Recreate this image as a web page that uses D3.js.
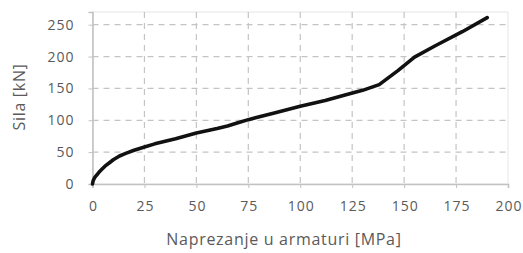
<!DOCTYPE html>
<html>
<head>
<meta charset="utf-8">
<script src="https://cdn.jsdelivr.net/npm/d3@7"></script>
<style>
  body { margin: 0; background: #fff; }
  svg text { font-family: "Open Sans", sans-serif; fill: #5a5a5a; }
</style>
</head>
<body>
<div id="chart"></div>
<script>
// stress in reinforcement [MPa] vs force [kN]
const stress = [0, 0.3, 1, 2, 3, 4.5, 6, 8, 10, 13, 16, 20, 25, 30, 35, 40, 50, 60, 65, 70, 75, 88, 100, 112, 122, 130, 138, 147, 155, 165, 178, 190];
const force  = [0, 5, 10, 14, 18, 23, 28, 33, 38, 44, 48, 53, 58, 63, 67, 71, 80, 87, 91, 96, 101, 112, 122, 131, 140, 147, 156, 178, 199, 217, 239, 261];
const xTicks = [0, 25, 50, 75, 100, 125, 150, 175, 200];
const yTicks = [0, 50, 100, 150, 200, 250];

const width = 523, height = 253;
const margin = { top: 12, right: 15, bottom: 69, left: 92.5 };

const svg = d3.select("#chart").append("svg")
    .attr("width", width)
    .attr("height", height);

const x = d3.scaleLinear().domain([0, 200]).range([margin.left, width - margin.right]);
// 250 sits just below the top frame
const y = d3.scaleLinear()
    .domain([0, 250 * (height - margin.bottom - margin.top) / (184.3 - 25)])
    .range([height - margin.bottom, margin.top]);

// frame
svg.append("rect")
    .attr("x", x(0)).attr("y", margin.top)
    .attr("width", x(200) - x(0)).attr("height", y(0) - margin.top)
    .attr("fill", "none").attr("stroke", "#e6e6e6").attr("stroke-width", 1);

// grid
svg.append("g").selectAll("line")
    .data(yTicks.filter(d => d > 0))
    .enter().append("line")
    .attr("x1", x(0)).attr("x2", x(200))
    .attr("y1", d => y(d)).attr("y2", d => y(d))
    .attr("stroke", "#c4c4c4").attr("stroke-width", 1.2)
    .attr("stroke-dasharray", "6,5");

svg.append("g").selectAll("line")
    .data(xTicks.filter(d => d > 0 && d < 200))
    .enter().append("line")
    .attr("x1", d => x(d)).attr("x2", d => x(d))
    .attr("y1", margin.top).attr("y2", y(0))
    .attr("stroke", "#c4c4c4").attr("stroke-width", 1.2)
    .attr("stroke-dasharray", "6,5");

// axes
const xAxis = svg.append("g")
    .attr("transform", `translate(0,${y(0)})`)
    .call(d3.axisBottom(x).tickValues(xTicks).tickSize(4).tickPadding(13));
const yAxis = svg.append("g")
    .attr("transform", `translate(${x(0)},0)`)
    .call(d3.axisLeft(y).tickValues(yTicks).tickSize(4).tickPadding(14));

[xAxis, yAxis].forEach(g => {
    g.select(".domain").attr("stroke", "#c2c2c2").attr("stroke-width", 1.6);
    g.selectAll(".tick line").attr("stroke", "#c2c2c2");
    g.selectAll(".tick text").attr("font-size", 14).attr("fill", "#5a5a5a")
        .attr("letter-spacing", 1)
        .style("font-family", "'Open Sans', sans-serif");
});
xAxis.selectAll(".tick text").attr("dx", 0.5);

// line
const line = d3.line()
    .x((d, i) => x(stress[i]))
    .y((d, i) => y(force[i]))
    .curve(d3.curveLinear);

svg.append("path")
    .datum(force)
    .attr("d", line)
    .attr("fill", "none")
    .attr("stroke", "#111")
    .attr("stroke-width", 3.6)
    .attr("stroke-linejoin", "round")
    .attr("stroke-linecap", "round");

// titles
svg.append("text")
    .attr("x", 284).attr("y", 245)
    .attr("text-anchor", "middle")
    .attr("font-size", 16)
    .attr("letter-spacing", 0.7)
    .text("Naprezanje u armaturi [MPa]");

svg.append("text")
    .attr("transform", `translate(25,${97}) rotate(-90)`)
    .attr("text-anchor", "middle")
    .attr("font-size", 16)
    .attr("letter-spacing", 0.7)
    .text("Sila [kN]");
</script>
</body>
</html>
